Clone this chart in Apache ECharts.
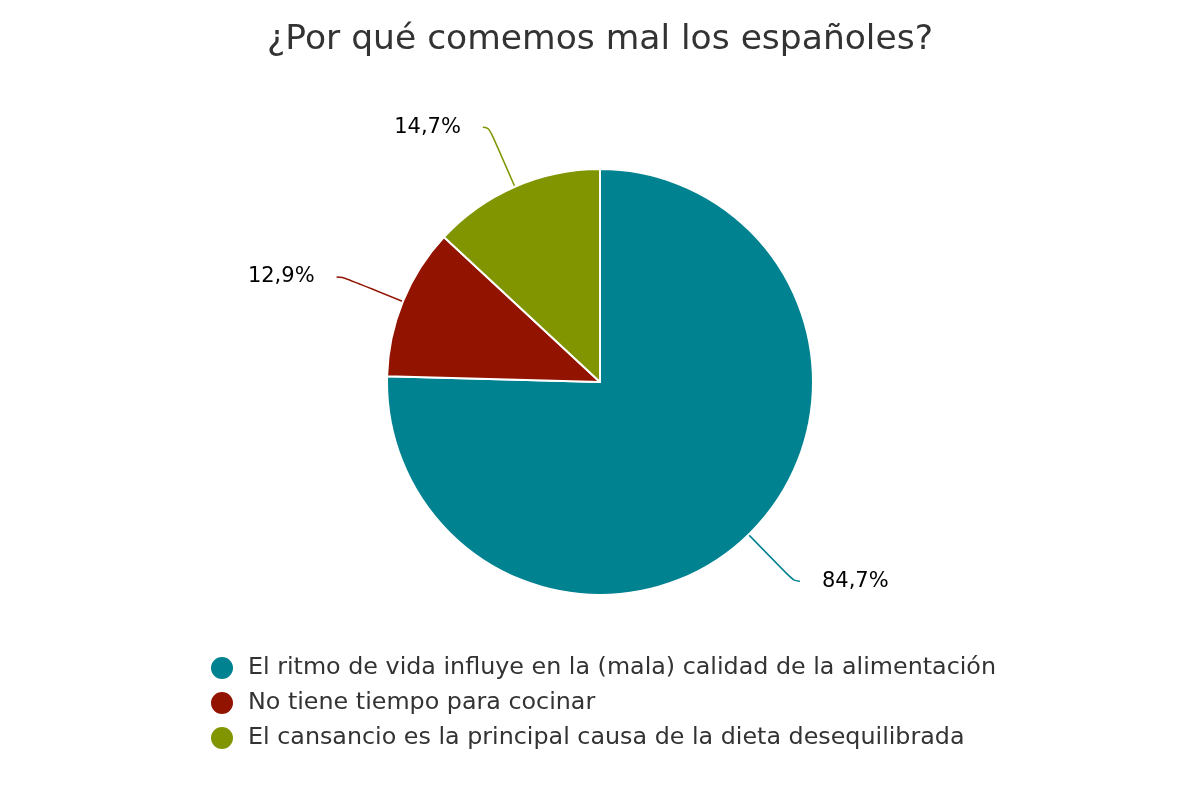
<!DOCTYPE html>
<html><head><meta charset="utf-8">
<script src="https://cdn.jsdelivr.net/npm/echarts@6/dist/echarts.min.js"></script>
<style>html,body{margin:0;padding:0;background:#fff}#c{width:1200px;height:800px}</style>
</head><body><div id="c"></div>
<script>
const categories = ["El ritmo de vida influye en la (mala) calidad de la alimentación","No tiene tiempo para cocinar","El cansancio es la principal causa de la dieta desequilibrada"];
const values = [84.7, 12.9, 14.7];
const colors = ["#008290", "#911300", "#809500"];
const chart = echarts.init(document.getElementById('c'));
chart.setOption({
  animation:false,
  title:{text:"¿Por qué comemos mal los españoles?",left:'center',top:18,textStyle:{fontFamily:'DejaVu Sans',fontSize:34.5,fontWeight:'normal',color:'#333'}},
  legend:{orient:'vertical',left:204,top:650,itemWidth:30,itemHeight:24,itemGap:9,icon:'circle',
    textStyle:{fontFamily:'DejaVu Sans',fontSize:23.8,color:'#333',padding:[0,0,0,6]}},
  series:[{type:'pie',center:[600,382],radius:213,startAngle:90,clockwise:true,
    data:categories.map((n,i)=>({name:n,value:values[i],itemStyle:{color:colors[i]}})),
    itemStyle:{borderColor:'#fff',borderWidth:2},
    label:{formatter:p=>String(p.value).replace('.',',')+'%',fontFamily:'DejaVu Sans',fontSize:21,color:'#000',distanceToLabelLine:22},
    labelLine:{length:65,length2:6,smooth:0.5,lineStyle:{width:1.5}}
  }]
});
</script></body></html>
